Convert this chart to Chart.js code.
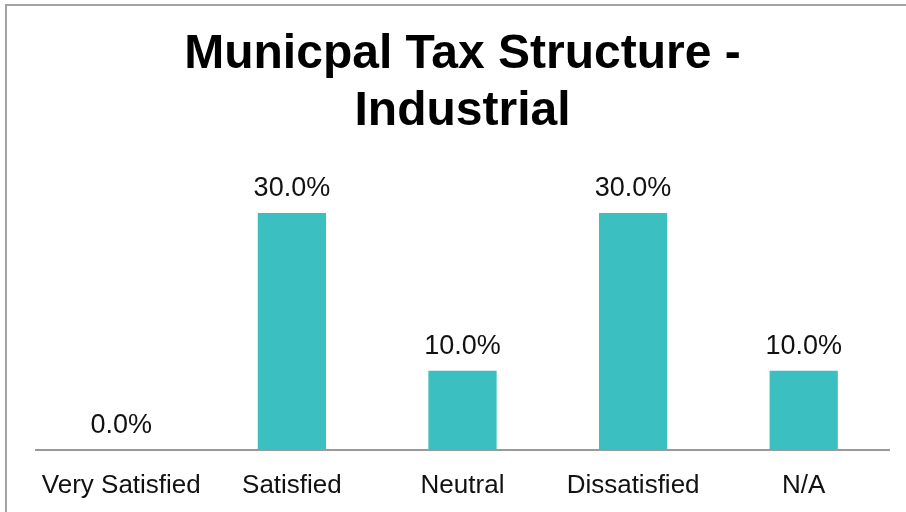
<!DOCTYPE html>
<html>
<head>
<meta charset="utf-8">
<script src="https://cdn.jsdelivr.net/npm/chart.js@4"></script>
<style>
    html, body { margin: 0; padding: 0; background: #fff; }
    .frame {
        position: absolute;
        left: 5px;
        top: 4px;
        width: 910px;
        height: 520px;
        border-top: 2px solid #a3a3a3;
        border-left: 2px solid #a3a3a3;
    }
    .chart-box {
        position: absolute;
        left: 0;
        top: 0;
        width: 906px;
        height: 512px;
    }
</style>
</head>
<body>
<div class="frame"></div>
<div class="chart-box"><canvas id="taxChart"></canvas></div>
<script>
// survey answers and share of responses (%)
const categories = ["Very Satisfied", "Satisfied", "Neutral", "Dissatisfied", "N/A"];
const shares = [0, 30, 10, 30, 10];
const titleLines = ["Municpal Tax Structure -", "Industrial"];

const barColor = "#3CBFC0";
const fontFamily = "'Liberation Sans', Arial, Helvetica, sans-serif";

//..draw the percentage above each bar
const valueLabels = {
    id: 'valueLabels',
    afterDatasetsDraw(chart) {
        const ctx = chart.ctx;
        const meta = chart.getDatasetMeta(0);
        ctx.save();
        ctx.font = `27px ${fontFamily}`;
        ctx.fillStyle = '#111';
        ctx.textAlign = 'center';
        ctx.textBaseline = 'alphabetic';
        meta.data.forEach((bar, i) => {
            const v = chart.data.datasets[0].data[i];
            ctx.fillText(v.toFixed(1) + '%', bar.x, bar.y - 17);
        });
        ctx.restore();
    }
};

new Chart(document.getElementById('taxChart'), {
    type: 'bar',
    data: {
        labels: categories,
        datasets: [{
            data: shares,
            backgroundColor: barColor,
            borderWidth: 0,
            categoryPercentage: 1,
            barPercentage: 0.4
        }]
    },
    options: {
        responsive: true,
        maintainAspectRatio: false,
        animation: false,
        layout: {
            padding: { left: 36, right: 17, top: 26, bottom: -1 }
        },
        scales: {
            x: {
                grid: { display: false },
                border: { display: true, color: '#9a9a9a', width: 2 },
                ticks: {
                    color: '#111',
                    padding: 12,
                    autoSkip: false,
                    maxRotation: 0,
                    minRotation: 0,
                    font: { size: 26, family: fontFamily }
                }
            },
            y: {
                display: false,
                min: 0,
                max: 35.4
            }
        },
        plugins: {
            legend: { display: false },
            tooltip: { enabled: false },
            title: {
                display: true,
                text: titleLines,
                color: '#000',
                font: { size: 48, weight: 'bold', family: fontFamily, lineHeight: 1.19 },
                padding: { top: 0, bottom: 30 }
            }
        }
    },
    plugins: [valueLabels]
});
</script>
</body>
</html>
